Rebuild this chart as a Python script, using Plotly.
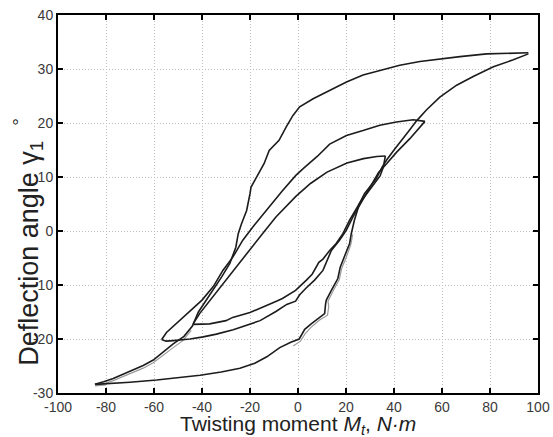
import plotly.graph_objects as go

# ---- data (Twisting moment M_t [N·m], deflection angle [deg]) ----
large_down_x = [96, 89.7, 78.6, 67.5, 59.1, 50.8, 42.4, 34.1, 27.1, 20.2, 13.2, 6.3, 0.7, -2.1, -4.9, -7.9,
                -12, -14.1, -17.6, -19.6, -20, -21.4, -23.5, -24.9, -25.9, -28.4, -31.8, -34.5, -38, -41.5,
                -44, -47.5, -52, -56, -60.3, -64.5, -68.6, -73, -77, -81, -84.6]
large_down_y = [33, 32.9, 32.8, 32.3, 31.9, 31.4, 30.7, 29.8, 28.9, 27.6, 26.1, 24.5, 23, 21.4, 19.3, 16.8,
                14.9, 12.5, 9.7, 8.1, 6.9, 3.8, 1.4, -0.5, -3, -6, -8.5, -10.3, -12.5, -15,
                -17.6, -19.5, -20.9, -22.4, -23.9, -24.9, -25.7, -26.6, -27.3, -27.9, -28.4]

large_up_x = [-84.6, -79.7, -70, -58.9, -50, -40.8, -32, -24.2, -18, -13, -7.6, -3, 0.5, 1.8, 2.8, 5.5, 9,
              11.1, 11.5, 11.8, 13.9, 16.6, 17.6, 19.4, 21.5, 22.2, 23.5, 25.6, 27.7, 29.8, 32.5, 35, 37,
              40, 43.9, 46.5, 49.4, 53.5, 59.1, 66.1, 73, 81.4, 89.7, 96]
large_up_y = [-28.4, -28.3, -28, -27.6, -27.2, -26.7, -26.1, -25.4, -24.5, -23.3, -21.6, -20.6, -20, -19,
              -18.2, -17.2, -15.9, -15.3, -13.5, -12.8, -11, -8.8, -6.7, -4.8, -2.3, -0.5, 2, 5.1, 6.9,
              8.1, 9.6, 11.8, 13.2, 15, 17.1, 18.7, 20.4, 22.4, 24.8, 27, 28.6, 30.4, 31.7, 32.8]

medium_down_x = [52.9, 48, 41, 34.1, 27.1, 20.2, 13.2, 8, 2.5, -0.9, -6.4, -10, -13.3, -18.9, -23, -27.1,
                 -31.3, -35.3, -40, -45.5, -51, -54.8, -56.8]
medium_down_y = [20.3, 20.6, 20.2, 19.6, 18.6, 17.7, 16.1, 13.8, 11.7, 10.3, 7.5, 5.6, 3.8, 0.7, -1.7, -4.8,
                 -7.3, -10.3, -12.8, -15, -17.2, -18.8, -20.1]

medium_up_x = [-56.8, -55, -52, -45, -39.5, -34, -27, -20.3, -15.8, -9.2, -4.7, -1, 0.7, 3.5, 6.9, 10.4,
               12.5, 13.9, 17.3, 20.1, 22.9, 27, 30.5, 33.5, 37, 41.1, 46.6, 51.4, 52.9]
medium_up_y = [-20.1, -20.4, -20.3, -20, -19.6, -19.1, -18.3, -17.2, -16.6, -14.9, -13.6, -13, -11.8,
               -10.5, -9.1, -7.3, -5, -3.6, -1.7, 0.1, 2.6, 5.7, 8.5, 10.8, 12.5, 14.6, 17.1, 19.6, 20.3]

small_down_x = [36.4, 32.8, 27.3, 20.4, 12.1, 5.2, -0.9, -3, -9.2, -14.8, -20.3, -25.8, -31.3, -36.8,
                -41, -43.7]
small_down_y = [13.9, 13.8, 13.4, 12.6, 10.9, 8.8, 6.4, 5.4, 2.6, -0.5, -3.6, -6.7, -9.8, -12.8, -15.3,
                -17.2]

small_up_x = [-43.7, -40, -36.8, -30, -27.2, -20, -16.1, -9, -6.5, -1, 3.5, 5.9, 8.7, 10.4, 13.2, 15.9,
              18.7, 21.5, 25.6, 29.8, 32.5, 34.2, 35.6, 36.2, 36.4]
small_up_y = [-17.3, -17.3, -17.2, -16.6, -16, -15.1, -14.4, -13, -12.5, -11, -9.1, -8, -5.8, -5.2, -3.6,
              -2.3, -0.5, 2, 5.1, 7.5, 9.1, 10.2, 11.9, 13, 13.9]

# second (grey) record, visible where it separates from the black one
grey_left_x = [-44.5, -48, -52, -56, -60.3, -64.5, -68.6, -73, -77, -81, -84.6, -80]
grey_left_y = [-18.4, -20.3, -21.6, -23, -24.4, -25.4, -26.2, -27, -27.7, -28.3, -28.7, -28.5]
grey_right_x = [-2, 1, 3, 5.5, 9, 12.3, 12.8, 12.5, 14.5, 17.2, 18.2, 20, 22, 22.8]
grey_right_y = [-21.3, -20.4, -19, -17.8, -16.5, -15.6, -14, -13, -11.2, -9, -6.9, -5, -2.5, -0.6]

x_ticks = [-100, -80, -60, -40, -20, 0, 20, 40, 60, 80, 100]
x_tick_text = ["-100", "-80", "-60", "-40", "-20", "0", "20", "40", "60", "80", "100"]
y_ticks = [-30, -20, -10, 0, 10, 20, 30, 40]
y_tick_text = ["-30", "-20", "-10", "0", "10", "20", "30", "40"]

fig = go.Figure()
for gx, gy in [(grey_left_x, grey_left_y), (grey_right_x, grey_right_y)]:
    fig.add_trace(go.Scatter(x=gx, y=gy, mode="lines", line=dict(color="#9a9a9a", width=1.2),
                             showlegend=False, hoverinfo="skip"))
for bx, by in [(large_down_x, large_down_y), (large_up_x, large_up_y),
               (medium_down_x, medium_down_y), (medium_up_x, medium_up_y),
               (small_down_x, small_down_y), (small_up_x, small_up_y)]:
    fig.add_trace(go.Scatter(x=bx, y=by, mode="lines", line=dict(color="#1c1c1c", width=1.6),
                             showlegend=False, hoverinfo="skip"))

axis_common = dict(
    showline=True, linecolor="black", linewidth=2, mirror="ticks",
    ticks="inside", ticklen=5, tickwidth=1.5, tickcolor="black",
    showgrid=True, gridcolor="#bdbdbd", griddash="1px,2px", gridwidth=1,
    zeroline=False, tickfont=dict(family="Liberation Sans, Arial", size=14, color="#3a3a3a"),
)
fig.update_xaxes(range=[-100, 100], tickmode="array", tickvals=x_ticks, ticktext=x_tick_text, **axis_common)
fig.update_yaxes(range=[-30, 40], tickmode="array", tickvals=y_ticks, ticktext=y_tick_text, **axis_common)

fig.add_annotation(text="Twisting moment <i>M</i><sub><i>t</i></sub>, <i>N·m</i>",
                   xref="paper", yref="paper", x=0.5, y=-0.085, xanchor="center", yanchor="middle",
                   showarrow=False, font=dict(family="Liberation Sans, Arial", size=21, color="#222222"))
fig.add_annotation(text="Deflection angle\u00a0γ<sub>1</sub>\u00a0\u00a0<sup>°</sup>",
                   xref="paper", yref="paper", x=-0.0625, y=0.40, xanchor="center", yanchor="middle",
                   textangle=-90, showarrow=False,
                   font=dict(family="Liberation Sans, Arial", size=27, color="#222222"))

fig.update_layout(
    width=553, height=437,
    margin=dict(l=58, r=15, t=15, b=44, autoexpand=False),
    paper_bgcolor="white", plot_bgcolor="white",
)
# remove the browser's default 8 px body margin so the figure fills the window exactly
fig.write_html("out.html", config={"displayModeBar": False},
               post_script="document.body.style.margin='0';")
